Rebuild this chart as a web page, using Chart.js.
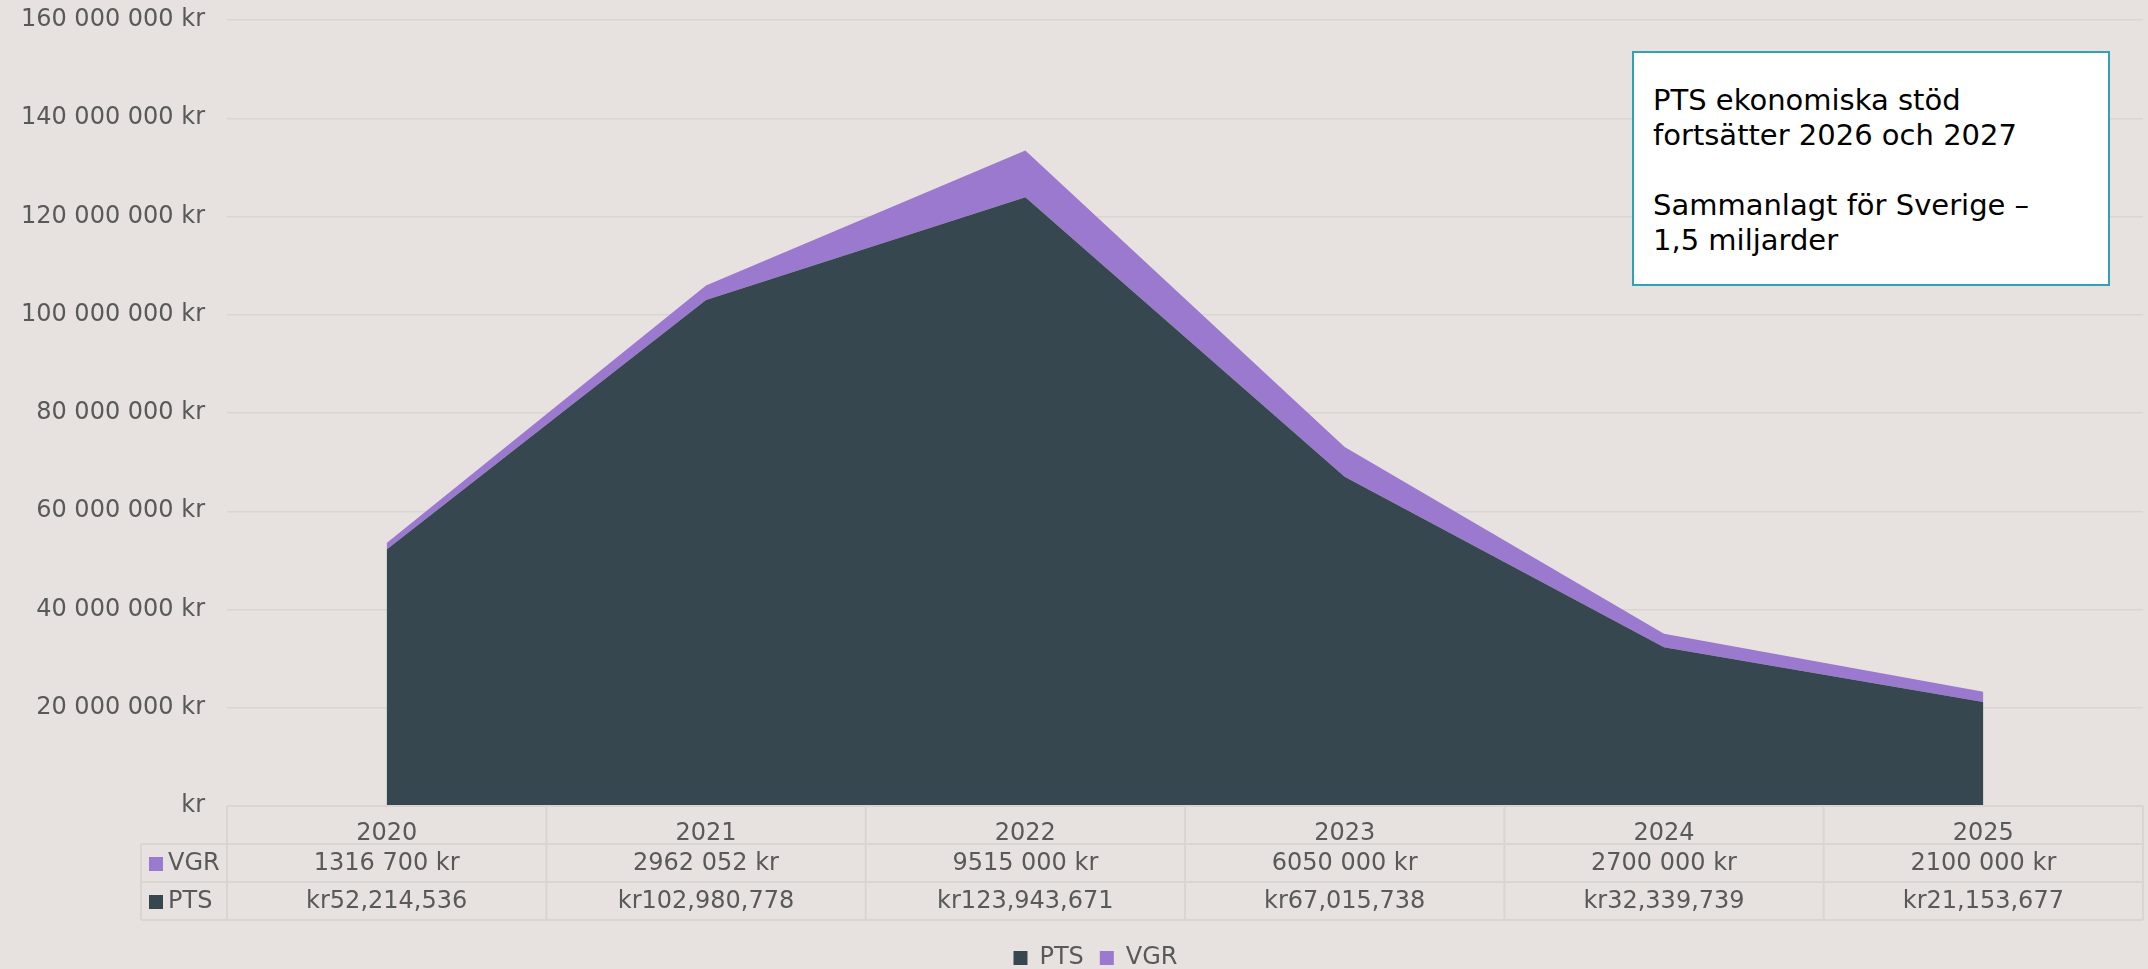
<!DOCTYPE html>
<html>
<head>
<meta charset="utf-8">
<script src="https://cdn.jsdelivr.net/npm/chart.js@4.4.1/dist/chart.umd.min.js"></script>
<style>
  html, body { margin: 0; padding: 0; background: #e7e2df; }
  #wrap { position: relative; width: 2148px; height: 969px; }
  #note {
    position: absolute; left: 1632px; top: 51px; width: 474px; height: 231px;
    background: #ffffff; border: 2px solid #2fa3b4; box-sizing: content-box;
    font-family: "DejaVu Sans", Verdana, sans-serif; font-size: 29px; line-height: 35px;
    color: #000; padding: 0; 
  }
  #note .inner { position: absolute; left: 19px; top: 30px; }
</style>
</head>
<body>
<div id="wrap">
  <canvas id="c" width="2148" height="969"></canvas>
  <div id="note"><div class="inner">PTS ekonomiska stöd<br>fortsätter 2026 och 2027<br><br>Sammanlagt för Sverige –<br>1,5 miljarder</div></div>
</div>
<script>
const categories = ['2020', '2021', '2022', '2023', '2024', '2025'];
const ptsValues = [52214536, 102980778, 123943671, 67015738, 32339739, 21153677];
const vgrValues = [1316700, 2962052, 9515000, 6050000, 2700000, 2100000];
const seriesNames = ['PTS', 'VGR'];
const yTickMax = 160000000;
const yTickStep = 20000000;

const FONT = '"DejaVu Sans", Verdana, sans-serif';
const TEXT = '#595959';
const PTS_COLOR = '#37474f';
const VGR_COLOR = '#9b79cf';
const LINE = '#d9d5d3';

function fmtAxis(v) {
  if (v === 0) return 'kr';
  return String(v).replace(/\B(?=(\d{3})+(?!\d))/g, ' ') + ' kr';
}
function fmtVgr(v) {
  const th = Math.floor(v / 1000);
  const rest = String(v % 1000).padStart(3, '0');
  return th + ' ' + rest + ' kr';
}
function fmtPts(v) {
  return 'kr' + v.toLocaleString('en-US');
}

const tablePlugin = {
  id: 'dataTable',
  afterLayout(chart) {
    const shift = 24;
    chart.legend.left += shift;
    chart.legend.right += shift;
  },
  afterDraw(chart) {
    const ctx = chart.ctx;
    const xs = chart.scales.x;
    const area = chart.chartArea;
    const top = area.bottom;
    const rowH = 38;
    const legendLeft = 141;
    const n = categories.length;
    const bounds = [];
    for (let i = 0; i <= n; i++) bounds.push(xs.left + (xs.right - xs.left) * i / n);
    ctx.save();
    ctx.strokeStyle = LINE;
    ctx.lineWidth = 2;
    ctx.beginPath();
    ctx.moveTo(bounds[0], top); ctx.lineTo(bounds[n], top);
    for (let r = 1; r <= 3; r++) {
      ctx.moveTo(legendLeft, top + r * rowH); ctx.lineTo(bounds[n], top + r * rowH);
    }
    for (let i = 0; i <= n; i++) {
      ctx.moveTo(bounds[i], top); ctx.lineTo(bounds[i], top + 3 * rowH);
    }
    ctx.moveTo(legendLeft, top + rowH); ctx.lineTo(legendLeft, top + 3 * rowH);
    ctx.stroke();

    ctx.font = '24px ' + FONT;
    ctx.fillStyle = TEXT;
    ctx.textBaseline = 'middle';
    const rows = [
      { name: seriesNames[1], color: VGR_COLOR, vals: vgrValues.map(fmtVgr) },
      { name: seriesNames[0], color: PTS_COLOR, vals: ptsValues.map(fmtPts) }
    ];
    rows.forEach((row, r) => {
      const cy = top + (r + 1) * rowH + rowH / 2 + 1;
      ctx.fillStyle = row.color;
      ctx.fillRect(149, cy - 7, 14, 14);
      ctx.fillStyle = TEXT;
      ctx.textAlign = 'left';
      ctx.fillText(row.name, 168, cy);
      ctx.textAlign = 'center';
      row.vals.forEach((t, i) => {
        ctx.fillText(t, (bounds[i] + bounds[i + 1]) / 2, cy);
      });
    });
    ctx.restore();
  }
};

new Chart(document.getElementById('c'), {
  type: 'line',
  data: {
    labels: categories,
    datasets: [
      { label: seriesNames[0], data: ptsValues, backgroundColor: PTS_COLOR, borderColor: PTS_COLOR,
        borderWidth: 0, pointRadius: 0, fill: 'origin', tension: 0 },
      { label: seriesNames[1], data: vgrValues, backgroundColor: VGR_COLOR, borderColor: VGR_COLOR,
        borderWidth: 0, pointRadius: 0, fill: '-1', tension: 0 }
    ]
  },
  options: {
    responsive: false,
    devicePixelRatio: 1,
    animation: false,
    events: [],
    layout: { padding: { left: 0, right: 5, top: 20, bottom: -11 } },
    plugins: {
      legend: {
        position: 'bottom',
        labels: { color: TEXT, font: { family: FONT, size: 24 }, boxWidth: 14, boxHeight: 14, padding: 16 }
      },
      tooltip: { enabled: false },
      filler: { propagate: false }
    },
    scales: {
      x: {
        offset: true,
        grid: { display: false },
        border: { display: false },
        ticks: { color: TEXT, font: { family: FONT, size: 24 }, padding: 5, maxRotation: 0 },
        afterFit(axis) { axis.height = 124; }
      },
      y: {
        stacked: true,
        min: 0, max: yTickMax,
        grid: { color: LINE, lineWidth: 1.5, drawTicks: true, tickLength: 22, tickColor: 'rgba(0,0,0,0)' },
        border: { display: false },
        ticks: { stepSize: yTickStep, color: TEXT, font: { family: FONT, size: 24 }, padding: 0,
          callback: (v) => fmtAxis(v) },
        afterFit(axis) { axis.width = 227; }
      }
    }
  },
  plugins: [tablePlugin]
});
</script>
</body>
</html>
